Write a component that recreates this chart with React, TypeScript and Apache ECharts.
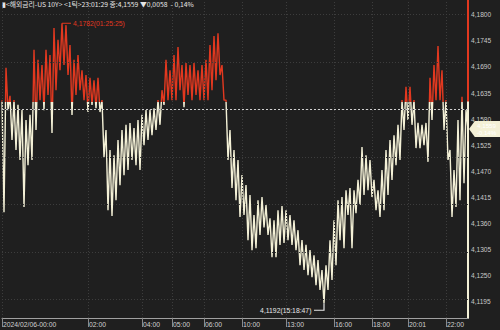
import React, { useEffect, useRef } from "react";
import * as echarts from "echarts";

const values = [
  4.1620, 4.1384, 4.1688, 4.1599, 4.1629, 4.1536, 4.1620, 4.1515, 4.1610, 4.1494,
  4.1599, 4.1395, 4.1578, 4.1483, 4.1589, 4.1494, 4.1726, 4.1557, 4.1705, 4.1620,
  4.1694, 4.1599, 4.1726, 4.1631, 4.1715, 4.1551, 4.1772, 4.1641, 4.1747, 4.1683,
  4.1782, 4.1694, 4.1778, 4.1673, 4.1736, 4.1589, 4.1705, 4.1631, 4.1715, 4.1641,
  4.1683, 4.1620, 4.1673, 4.1595, 4.1667, 4.1610, 4.1662, 4.1603, 4.1667, 4.1595,
  4.1620, 4.1500, 4.1557, 4.1388, 4.1515, 4.1376, 4.1504, 4.1409, 4.1536, 4.1441,
  4.1557, 4.1462, 4.1568, 4.1473, 4.1572, 4.1494, 4.1561, 4.1483, 4.1578, 4.1473,
  4.1589, 4.1525, 4.1599, 4.1536, 4.1599, 4.1546, 4.1603, 4.1557, 4.1620, 4.1568,
  4.1641, 4.1610, 4.1705, 4.1620, 4.1683, 4.1620, 4.1715, 4.1620, 4.1732, 4.1641,
  4.1694, 4.1605, 4.1698, 4.1631, 4.1694, 4.1620, 4.1698, 4.1631, 4.1683, 4.1620,
  4.1694, 4.1620, 4.1705, 4.1620, 4.1736, 4.1641, 4.1755, 4.1662, 4.1761, 4.1673,
  4.1694, 4.1620, 4.1620, 4.1494, 4.1557, 4.1435, 4.1515, 4.1409, 4.1494, 4.1374,
  4.1462, 4.1378, 4.1441, 4.1325, 4.1420, 4.1304, 4.1378, 4.1308, 4.1409, 4.1336,
  4.1416, 4.1352, 4.1399, 4.1336, 4.1371, 4.1289, 4.1367, 4.1289, 4.1388, 4.1315,
  4.1397, 4.1319, 4.1388, 4.1325, 4.1378, 4.1315, 4.1367, 4.1304, 4.1346, 4.1272,
  4.1325, 4.1262, 4.1315, 4.1251, 4.1304, 4.1247, 4.1293, 4.1230, 4.1283, 4.1220,
  4.1262, 4.1192, 4.1272, 4.1220, 4.1325, 4.1241, 4.1367, 4.1272, 4.1409, 4.1325,
  4.1416, 4.1308, 4.1430, 4.1378, 4.1435, 4.1308, 4.1430, 4.1382, 4.1452, 4.1399,
  4.1521, 4.1420, 4.1504, 4.1430, 4.1494, 4.1416, 4.1452, 4.1388, 4.1430, 4.1374,
  4.1473, 4.1388, 4.1515, 4.1420, 4.1536, 4.1452, 4.1546, 4.1483, 4.1568, 4.1494,
  4.1620, 4.1557, 4.1648, 4.1578, 4.1648, 4.1568, 4.1620, 4.1519, 4.1572, 4.1519,
  4.1568, 4.1525, 4.1572, 4.1490, 4.1667, 4.1578, 4.1694, 4.1620, 4.1734, 4.1620,
  4.1683, 4.1557, 4.1620, 4.1494, 4.1515, 4.1374, 4.1473, 4.1395, 4.1578, 4.1409,
  4.1627, 4.1445, 4.1599, 4.1559,
];

const categories = values.map((_, i) => String(i));
const tickIndex = [0, 43, 70, 85, 101, 120, 142, 166, 185, 203, 222];
const tickLabels = [
  "2024/02/06-00:00", "02:00", "04:00", "05:00", "06:00", "10:00",
  "13:00", "16:00", "18:00", "20:01", "22:00",
];
const yTicks = [
  4.1195, 4.125, 4.1305, 4.136, 4.1415, 4.147, 4.1525, 4.158, 4.1635, 4.169, 4.1745, 4.18,
];
const yMin = 4.1161;
const yMax = 4.1831;
const prevClose = 4.1617;
const lastPrice = 4.1559;
const lastChangePct = "-0,14%";
const highValue = 4.1782;
const highTime = "01:25:25";
const lowValue = 4.1192;
const lowTime = "15:18:47";
const headerText = "▮<해외금리-US 10Y> <1틱>23:01:29 종:4,1559 ▼0,0058  - 0,14%";

const RED = "#e2381f";
const CREAM = "#f3f0d6";
const BG = "#1f1f1f";
const GRID = "#3d3d3d";
const NUM_FONT = "'Liberation Sans', sans-serif";

const fmt = (v: number) => v.toFixed(4).replace(".", ",");

export default function App() {
  const ref = useRef<HTMLDivElement>(null);
  useEffect(() => {
    if (!ref.current) return;
    const chart = echarts.init(ref.current, undefined, { renderer: "svg" });
    const highIdx = values.indexOf(highValue);
    const lowIdx = values.indexOf(lowValue);
    const lastIdx = values.length - 1;
    const showTick = (i: number) => tickIndex.includes(i);

    const yGridLines = yTicks.map((v) => ({
      yAxis: v,
      lineStyle: { color: GRID, type: [1, 2], width: 1 },
    }));
    const xGridLines = tickIndex.map((i) => ({
      xAxis: categories[i],
      lineStyle: { color: GRID, type: [1, 2], width: 1 },
    }));

    chart.setOption({
      animation: false,
      backgroundColor: BG,
      graphic: [
        {
          type: "text",
          left: 2,
          top: 1,
          style: {
            text: headerText,
            fill: "#e6e6e6",
            font: '6.8px "Noto Sans CJK KR"',
          },
          z: 100,
        },
      ],
      grid: { left: 1, right: 32, top: 0, bottom: 12 },
      visualMap: {
        show: false,
        type: "piecewise",
        seriesIndex: 0,
        dimension: 1,
        pieces: [
          { gt: yMin - 1, lte: prevClose, color: CREAM },
          { gt: prevClose, lte: yMax + 1, color: RED },
        ],
        outOfRange: { color: CREAM },
      },
      xAxis: {
        type: "category",
        data: categories,
        boundaryGap: false,
        axisLine: { show: true, lineStyle: { color: "#a0a0a0", width: 1 } },
        axisTick: {
          show: true,
          interval: (i: number) => showTick(i),
          length: 9,
          lineStyle: { color: "#8a8a8a" },
        },
        axisLabel: {
          interval: (i: number) => showTick(i),
          formatter: (_v: string, i: number) => {
            const k = tickIndex.indexOf(i);
            return k >= 0 ? tickLabels[k] : "";
          },
          align: "left",
          margin: 3,
          padding: [0, 0, 0, 1],
          color: "#cfcfcf",
          fontSize: 6.8,
          fontFamily: NUM_FONT,
        },
        splitLine: { show: false },
      },
      yAxis: {
        type: "value",
        position: "right",
        min: yMin,
        max: yMax,
        axisLine: { show: true, lineStyle: { color: CREAM, width: 2 } },
        axisTick: { show: false, customValues: yTicks },
        axisLabel: {
          show: true,
          customValues: yTicks,
          formatter: (v: number) => fmt(v),
          margin: 3,
          color: "#c8c8c8",
          fontSize: 6.6,
          fontFamily: NUM_FONT,
          showMinLabel: true,
          showMaxLabel: true,
        },
        splitLine: { show: false },
      },
      series: [
        {
          type: "line",
          data: values,
          showSymbol: false,
          symbol: "none",
          lineStyle: { width: 1.4 },
          z: 3,
        },
        {
          type: "line",
          data: values,
          showSymbol: false,
          symbol: "none",
          silent: true,
          lineStyle: { opacity: 0 },
          itemStyle: { color: CREAM },
          z: 1,
          markLine: {
            silent: true,
            symbol: ["none", "none"],
            label: { show: false },
            data: [...yGridLines, ...xGridLines],
          },
        },
        {
          type: "line",
          data: values,
          showSymbol: false,
          symbol: "none",
          silent: true,
          lineStyle: { opacity: 0 },
          itemStyle: { color: CREAM },
          z: 5,
          markLine: {
            silent: true,
            symbol: ["none", "none"],
            label: { show: false },
            data: [
              {
                yAxis: prevClose,
                lineStyle: { color: "#cfcfcf", type: [2, 2], width: 1 },
              },
              [
                { coord: [categories[lastIdx], yMax], lineStyle: { color: RED, width: 2, type: "solid" } },
                { coord: [categories[lastIdx], prevClose] },
              ],
            ],
          },
          markPoint: {
            silent: true,
            data: [
              {
                coord: [categories[highIdx], highValue],
                symbol: "rect",
                symbolSize: [9, 1],
                symbolOffset: [4.5, 0],
                itemStyle: { color: RED },
                label: {
                  show: true,
                  position: "right",
                  distance: 2,
                  formatter: `${fmt(highValue)}(${highTime})`,
                  color: RED,
                  fontSize: 6.8,
                  fontFamily: NUM_FONT,
                },
              },
              {
                coord: [categories[lowIdx], lowValue],
                symbol: "path://M10 0 L10 7 L0 7",
                symbolSize: [10, 7],
                symbolOffset: [-5, 3.5],
                itemStyle: { color: "transparent", borderColor: "#e8e8e8", borderWidth: 1 },
                label: {
                  show: true,
                  position: "left",
                  distance: 2,
                  offset: [0, 3.5],
                  formatter: `${fmt(lowValue)}(${lowTime})`,
                  color: "#e8e8e8",
                  fontSize: 6.8,
                  fontFamily: NUM_FONT,
                },
              },
              {
                coord: [categories[lastIdx], lastPrice],
                symbol: "path://M0 8 L6 0 L32 0 L32 16 L6 16 Z",
                symbolSize: [31, 16],
                symbolOffset: [16.5, 0],
                itemStyle: { color: CREAM },
                label: {
                  show: true,
                  position: "inside",
                  offset: [2, 0],
                  formatter: `${fmt(lastPrice)}\n${lastChangePct}`,
                  color: "#ffffff",
                  fontSize: 6.2,
                  lineHeight: 7,
                  fontFamily: NUM_FONT,
                },
              },
            ],
          },
        },
      ],
    });
    return () => chart.dispose();
  }, []);
  return (
    <div
      ref={ref}
      style={{ position: "fixed", left: 0, top: 0, width: 500, height: 330 }}
    />
  );
}
